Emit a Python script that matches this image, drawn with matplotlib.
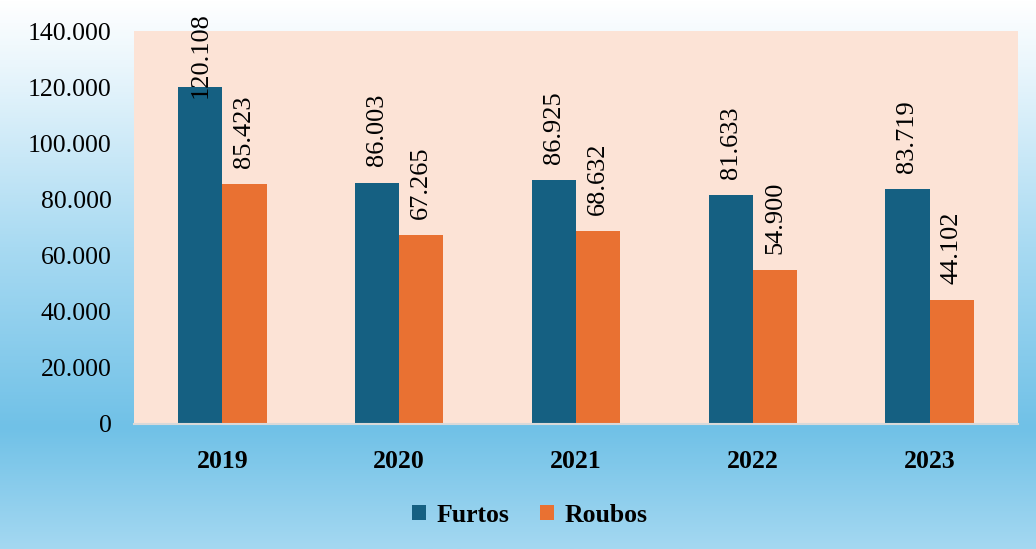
import matplotlib
matplotlib.use('Agg')
import matplotlib.pyplot as plt
import numpy as np
from matplotlib.colors import LinearSegmentedColormap

plt.rcParams['font.family'] = ['Liberation Serif', 'DejaVu Serif']

years = ['2019', '2020', '2021', '2022', '2023']
furtos = [120108, 86003, 86925, 81633, 83719]
roubos = [85423, 67265, 68632, 54900, 44102]
yticks = [0, 20000, 40000, 60000, 80000, 100000, 120000, 140000]

def fmt(v):
    return f'{v:,.0f}'.replace(',', '.')

fig = plt.figure(figsize=(10.36, 5.49), dpi=100)

# gradient background for the whole chart
bg = fig.add_axes([0, 0, 1, 1], zorder=0)
cmap = LinearSegmentedColormap.from_list('bg', [(0, '#ffffff'), (0.12, '#eaf6fc'),
                                                (0.45, '#a8daf2'), (0.78, '#70c1e7'),
                                                (1, '#a4d8f1')])
grad = np.linspace(0, 1, 256).reshape(-1, 1)
bg.imshow(grad, aspect='auto', cmap=cmap, extent=[0, 1, 1, 0])
bg.axis('off')

ax = fig.add_axes([134/1036, 125/549, 884/1036, 393/549], zorder=1)
ax.set_facecolor('#fce3d6')

x = np.arange(len(years))
w = 0.25
ax.bar(x - w/2, furtos, w, color='#156082', label='Furtos')
ax.bar(x + w/2, roubos, w, color='#e97132', label='Roubos')

for xs, vals in ((x - w/2, furtos), (x + w/2, roubos)):
    for xi, v in zip(xs, vals):
        ax.text(xi, min(v + 5800, 116000), fmt(v), rotation=90, ha='center', va='bottom',
                fontsize=19, color='black')

ax.set_xlim(-0.5, len(years) - 0.5)
ax.set_ylim(0, 140000)
ax.set_yticks(yticks)
ax.set_yticklabels([fmt(v) for v in yticks], fontsize=18.5)
ax.set_xticks(x)
ax.set_xticklabels(years, fontsize=18.5, fontweight='bold')
ax.tick_params(axis='both', length=0)
ax.tick_params(axis='y', pad=16)
ax.tick_params(axis='x', pad=19)
for s in ('top', 'right', 'left'):
    ax.spines[s].set_visible(False)
ax.spines['bottom'].set_color('#d9d9d9')
ax.spines['bottom'].set_linewidth(1.5)

fig.legend(loc='center', bbox_to_anchor=(530/1036, 1 - 515/549), ncol=2, frameon=False,
           prop={'size': 18.5, 'weight': 'bold'}, handlelength=0.55, handleheight=0.55,
           handletextpad=0.4, columnspacing=1.2)

fig.savefig('out.png', dpi=100)
